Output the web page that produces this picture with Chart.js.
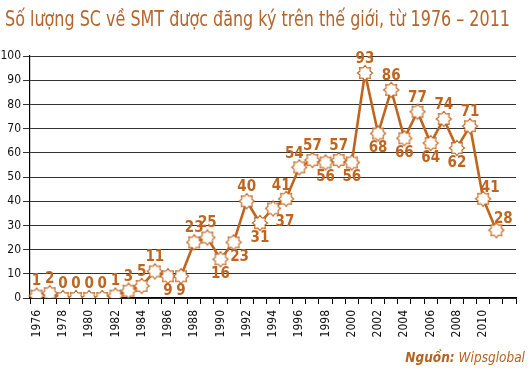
<!DOCTYPE html>
<html>
<head>
<meta charset="utf-8">
<script src="https://cdn.jsdelivr.net/npm/chart.js@4/dist/chart.umd.min.js"></script>
<style>
  html, body { margin: 0; padding: 0; background: #fff; }
  #wrap { position: relative; width: 530px; height: 380px; }
  #source { position: absolute; right: 5px; top: 349px; font-family: 'Liberation Sans Narrow', 'DejaVu Sans Condensed', sans-serif; font-size: 13.5px; font-style: italic; color: #b8621f; white-space: nowrap; }
  #source b { font-weight: bold; }
  canvas { position: absolute; left: 0; top: 0; }
</style>
</head>
<body>
<div id="wrap">
  <canvas id="c" width="530" height="380"></canvas>
  <div id="source"><b>Nguồn:</b> Wipsglobal</div>
</div>
<script>
const TITLE = 'Số lượng SC về SMT được đăng ký trên thế giới, từ 1976 – 2011';
const years = [1976,1977,1978,1979,1980,1981,1982,1983,1984,1985,1986,1987,1988,1989,1990,1991,1992,1993,1994,1995,1996,1997,1998,1999,2000,2001,2002,2003,2004,2005,2006,2007,2008,2009,2010,2011];
const counts = [1,2,0,0,0,0,1,3,5,11,9,9,23,25,16,23,40,31,37,41,54,57,56,57,56,93,68,86,66,77,64,74,62,71,41,28];
const yTicks = [0,10,20,30,40,50,60,70,80,90,100];

const ORANGE = '#c0651f';
const FONT = "'Liberation Sans Narrow', 'DejaVu Sans Condensed', sans-serif";

// x axis has one empty trailing slot as in the original
const labels = years.map(String).concat(['']);
const values = counts.concat([null]);

// star marker
function makeStar() {
  const s = 18, c = document.createElement('canvas');
  c.width = s; c.height = s;
  const g = c.getContext('2d');
  const n = 8, ro = 7.6, ri = 5.4, cx = s/2, cy = s/2;
  g.beginPath();
  for (let i = 0; i < n*2; i++) {
    const r = i % 2 === 0 ? ro : ri;
    const a = -Math.PI/2 + i * Math.PI / n;
    const x = cx + r*Math.cos(a), y = cy + r*Math.sin(a);
    if (i === 0) g.moveTo(x, y); else g.lineTo(x, y);
  }
  g.closePath();
  g.fillStyle = '#fff';
  g.fill();
  g.lineWidth = 1.1;
  g.strokeStyle = ORANGE;
  g.stroke();
  return c;
}
const star = makeStar();

const titlePlugin = {
  id: 'leftTitle',
  afterDraw(chart, args, opts) {
    const ctx = chart.ctx;
    ctx.save();
    ctx.font = '21px ' + FONT;
    ctx.fillStyle = '#b5652c';
    ctx.textAlign = 'left';
    ctx.textBaseline = 'alphabetic';
    ctx.fillText(opts.text, 5, 26, 505);
    ctx.restore();
  }
};

const labelPlugin = {
  id: 'valLabels',
  afterDatasetsDraw(chart, args, opts) {
    const ctx = chart.ctx;
    const meta = chart.getDatasetMeta(0);
    const ds = chart.data.datasets[0].data;
    ctx.save();
    ctx.font = 'bold 15px ' + FONT;
    ctx.fillStyle = ORANGE;
    ctx.textAlign = 'center';
    ctx.textBaseline = 'middle';
    meta.data.forEach((pt, i) => {
      if (ds[i] === null || ds[i] === undefined) return;
      const code = opts.pos[i] || 't';
      const off = opts.offsets[code];
      ctx.fillText(String(ds[i]), pt.x + off[0], pt.y + off[1]);
    });
    ctx.restore();
  }
};

new Chart(document.getElementById('c'), {
  type: 'line',
  data: {
    labels: labels,
    datasets: [{
      data: values,
      borderColor: ORANGE,
      borderWidth: 2.6,
      tension: 0,
      pointStyle: star,
      pointRadius: 8,
      pointHoverRadius: 8,
      spanGaps: false
    }]
  },
  plugins: [labelPlugin, titlePlugin],
  options: {
    responsive: false,
    animation: false,
    events: [],
    layout: { padding: { left: 0, right: 5, top: 56, bottom: 40 } },
    plugins: {
      legend: { display: false },
      tooltip: { enabled: false },
      title: { display: false },
      leftTitle: { text: TITLE },
      valLabels: {
        pos: ['t','t','t','t','t','t','t','t','t','t','b','b','t','t','b','br','t','b','br2','tl','tl','t','b','t','b','t','b','t','b','t','b','t','b','t','tr','tr'],
        offsets: { t: [0,-14], b: [0,15], tl: [-5,-13], br: [6,15], br2: [12,14], tr: [7,-11] }
      }
    },
    scales: {
      x: {
        type: 'category',
        offset: true,
        grid: { display: true, drawOnChartArea: false, drawTicks: true, tickLength: 6, offset: true, color: '#000', lineWidth: 1 },
        border: { display: true, color: '#000', width: 1.2 },
        ticks: {
          autoSkip: false,
          minRotation: 90,
          maxRotation: 90,
          padding: 6,
          color: '#111',
          font: { family: FONT, size: 12 },
          callback: function(v, i) { const l = labels[i]; return (l !== '' && i % 2 === 0) ? l : ''; }
        },
        afterFit(scale) { scale.height = 42; }
      },
      y: {
        min: 0,
        max: 100,
        afterBuildTicks(scale) { scale.ticks = yTicks.map(v => ({ value: v })); },
        grid: { color: '#333', lineWidth: 1, tickLength: 7 },
        border: { display: true, color: '#000', width: 1.2 },
        ticks: { color: '#111', padding: 2, font: { family: FONT, size: 12 } },
        afterFit(scale) { scale.width = 30; }
      }
    }
  }
});
</script>
</body>
</html>
